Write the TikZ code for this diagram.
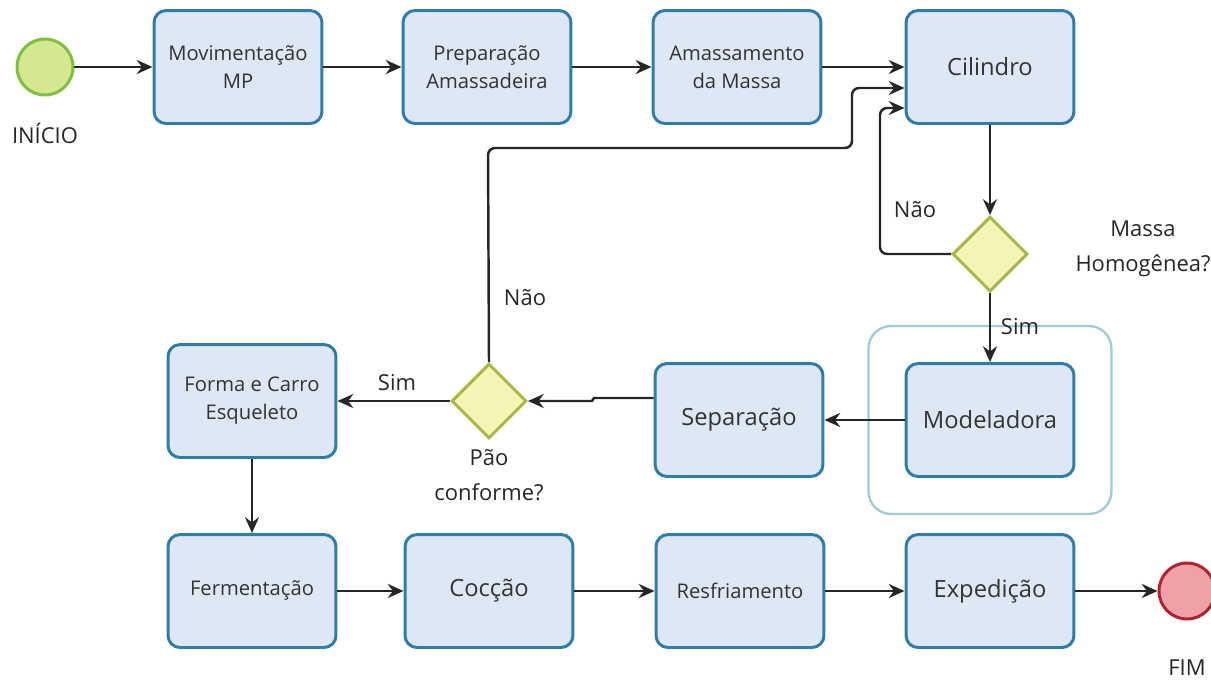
\documentclass[tikz,border=0pt]{standalone}
\usepackage{fontspec}
\setmainfont{Open Sans}
\usetikzlibrary{positioning, fit, shapes.geometric, arrows.meta}

\definecolor{caixaborda}{HTML}{2F7EA6}
\definecolor{caixafundo}{HTML}{DEE7F4}
\definecolor{decisaoborda}{HTML}{A8B743}
\definecolor{decisaofundo}{HTML}{F4F4B6}
\definecolor{inicioborda}{HTML}{7DBF3F}
\definecolor{iniciofundo}{HTML}{D5E88F}
\definecolor{fimborda}{HTML}{B0222E}
\definecolor{fimfundo}{HTML}{EFA1A8}
\definecolor{destaque}{HTML}{9FCAD6}

\begin{document}
\begin{tikzpicture}[x=0.02cm, y=-0.02cm, >={Stealth[length=9pt, width=8pt, inset=3pt]}]
            \tikzset{
                fluxo/.style={->, line width=1.4pt, black!85}, % ligacoes com seta
                etapa/.style={draw=caixaborda, fill=caixafundo, line width=1.7pt, rounded corners=0.24cm,
                    minimum width=3.36cm, minimum height=2.26cm, align=center,
                    font=\fontsize{11.5}{16}\selectfont, text=black!80}, % caixa de atividade
                etapagrande/.style={etapa, font=\fontsize{13.5}{17}\selectfont}, % texto maior
                decisao/.style={diamond, draw=decisaoborda, fill=decisaofundo, line width=1.7pt,
                    minimum size=1.5cm, inner sep=0pt}, % gateway
                evento/.style={circle, line width=1.7pt, minimum size=1.12cm, inner sep=0pt}, % inicio e fim
                rotulo/.style={font=\fontsize{12.5}{20}\selectfont, align=center, text=black!85},
                grupo/.style={draw=destaque, line width=1.3pt, rounded corners=0.45cm, inner sep=0.72cm},
            }
            \useasboundingbox (0,0) rectangle (1211,684);

            % linha de cima
            \node[evento, draw=inicioborda, fill=iniciofundo] (inicio) at (45,67) {};
            \node[rotulo] (tinicio) at (45,133) {INÍCIO};
            \node[etapa] (mov) at (238,67) {Movimentação\\MP};
            \node[etapa] (prep) at (487,67) {Preparação\\Amassadeira};
            \node[etapa] (amass) at (737,67) {Amassamento\\da Massa};
            \node[etapagrande] (cil) at (990,67) {Cilindro};

            % meio
            \node[decisao] (massa) at (990,254) {};
            \node[rotulo] (tmassa) at (1143,249) {Massa\\Homogênea?};
            \node[etapagrande] (mod) at (990,420) {Modeladora};
            \node[grupo, fit=(mod)] (gmod) {};
            \node[etapagrande] (sep) at (739,420) {Separação};
            \node[decisao] (pao) at (489,401) {};
            \node[rotulo] (tpao) at (489,475) {Pão\\conforme?};
            \node[etapa] (forma) at (252,401) {Forma e Carro\\Esqueleto};

            % linha de baixo
            \node[etapa] (ferm) at (252,591) {Fermentação};
            \node[etapagrande] (cocc) at (489,591) {Cocção};
            \node[etapa] (resf) at (740,591) {Resfriamento};
            \node[etapagrande] (exped) at (990,591) {Expedição};
            \node[evento, draw=fimborda, fill=fimfundo] (fim) at (1187,591) {};
            \node[rotulo] (tfim) at (1187,668) {FIM};

            \draw[fluxo] (inicio) -- (mov);
            \draw[fluxo] (mov) -- (prep);
            \draw[fluxo] (prep) -- (amass);
            \draw[fluxo] (amass) -- (cil);
            \draw[fluxo] (cil) -- (massa);
            \draw[fluxo, rounded corners=4pt] (massa.west) -- (880,254) -- (880,108) -- ([yshift=-0.82cm]cil.west);
            \draw[fluxo] (massa) -- (mod);
            \draw[fluxo] (mod) -- (sep);
            \draw[fluxo] ([yshift=0.44cm]sep.west) -- (594,398) -- (592,401) -- (pao.east);
            \draw[fluxo] (pao) -- (forma);
            \draw[fluxo, rounded corners=4pt] (pao.north) -- (488,148) -- (852,148) -- (852,88) -- ([yshift=-0.42cm]cil.west);
            \draw[fluxo] (forma) -- (ferm);
            \draw[fluxo] (ferm) -- (cocc);
            \draw[fluxo] (cocc) -- (resf);
            \draw[fluxo] (resf) -- (exped);
            \draw[fluxo] (exped) -- (fim);

            % rotulos das ligacoes
            \node[rotulo] (nao1) at (915,210) {Não};
            \node[rotulo] (sim1) at (1020,327) {Sim};
            \node[rotulo] (nao2) at (525,298) {Não};
            \node[rotulo] (sim2) at (397,383) {Sim};
        \end{tikzpicture}
\end{document}
